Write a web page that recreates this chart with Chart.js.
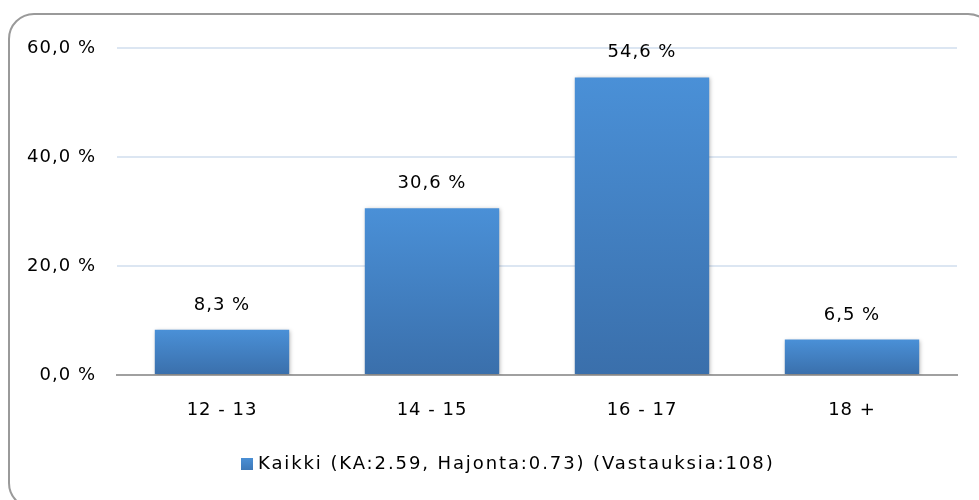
<!DOCTYPE html>
<html>
<head>
<meta charset="utf-8">
<script src="https://cdn.jsdelivr.net/npm/chart.js@4.4.1/dist/chart.umd.min.js"></script>
<style>
  html, body { margin:0; padding:0; background:#fff; }
  .wrap { position:relative; width:979px; height:500px; overflow:hidden; }
  .frame { position:absolute; left:8px; top:13px; width:986px; height:496px; border:2px solid #9a9a9a; border-radius:26px; box-sizing:border-box; }
  canvas { position:absolute; left:0; top:0; }
</style>
</head>
<body>
<div class="wrap">
  <div class="frame"></div>
  <canvas id="chart" width="979" height="500"></canvas>
</div>
<script>
// ----- DATA -----
const categories = ['12 - 13', '14 - 15', '16 - 17', '18 +'];
const values = [8.3, 30.6, 54.6, 6.5];
const seriesLabel = 'Kaikki (KA:2.59, Hajonta:0.73) (Vastauksia:108)';
const yTicks = [0, 20, 40, 60];

const FONT = "'DejaVu Sans', Verdana, sans-serif";

function fmt(v){ return v.toFixed(1).replace('.', ',') + ' %'; }

function barGradient(context){
  const chart = context.chart;
  const area = chart.chartArea;
  if(!area) return '#4a8fd5';
  const y = chart.scales.y;
  const v = context.parsed ? context.parsed.y : values[context.dataIndex];
  const top = y.getPixelForValue(v);
  const bottom = y.getPixelForValue(0);
  if(!isFinite(top) || top === bottom) return '#4a8fd5';
  const g = chart.ctx.createLinearGradient(0, top, 0, bottom);
  g.addColorStop(0, '#4a90d7');
  g.addColorStop(1, '#3a6fab');
  return g;
}

// slightly wider text, like the original
const textSpacing = {
  id:'textSpacing',
  beforeDraw(chart){ chart.ctx.letterSpacing = '1px'; }
};

// data labels above bars
const valueLabels = {
  id:'valueLabels',
  afterDatasetsDraw(chart){
    const ctx = chart.ctx;
    const meta = chart.getDatasetMeta(0);
    ctx.save();
    ctx.font = '18px ' + FONT;
    ctx.letterSpacing = '1px';
    ctx.fillStyle = '#000';
    ctx.textAlign = 'center';
    ctx.textBaseline = 'alphabetic';
    meta.data.forEach((bar,i)=>{
      ctx.fillText(fmt(values[i]), bar.x, bar.y - 20);
    });
    ctx.restore();
  }
};

// soft shadow on bars
const barShadow = {
  id:'barShadow',
  beforeDatasetDraw(chart){
    const ctx = chart.ctx;
    ctx.save();
    ctx.shadowColor = 'rgba(0,0,0,0.28)';
    ctx.shadowBlur = 4;
    ctx.shadowOffsetX = 1;
    ctx.shadowOffsetY = 1;
  },
  afterDatasetDraw(chart){ chart.ctx.restore(); }
};

// legend below the axis
const bottomLegend = {
  id:'bottomLegend',
  afterDraw(chart){
    const ctx = chart.ctx;
    const x0 = 241, cy = 464, box = 12;
    ctx.save();
    const g = ctx.createLinearGradient(0, cy - box/2, 0, cy + box/2);
    g.addColorStop(0, '#4a8fd5');
    g.addColorStop(1, '#3d78b8');
    ctx.fillStyle = g;
    ctx.fillRect(x0, cy - box/2, box, box);
    ctx.font = '18px ' + FONT;
    ctx.letterSpacing = '1.9px';
    ctx.fillStyle = '#000';
    ctx.textAlign = 'left';
    ctx.textBaseline = 'middle';
    ctx.fillText(seriesLabel, x0 + box + 5, cy);
    ctx.restore();
  }
};

new Chart(document.getElementById('chart'), {
  type:'bar',
  data:{
    labels:categories,
    datasets:[{
      label:seriesLabel,
      data:values,
      backgroundColor:barGradient,
      borderWidth:0,
      categoryPercentage:0.64,
      barPercentage:1
    }]
  },
  options:{
    responsive:false,
    animation:false,
    events:[],
    layout:{ padding:{ left:0, right:22, top:48, bottom:55 } },
    plugins:{
      tooltip:{ enabled:false },
      legend:{ display:false }
    },
    scales:{
      x:{
        grid:{ display:false, drawTicks:false },
        border:{ display:true, color:'#a0a0a0', width:2 },
        ticks:{ font:{ family:FONT, size:18 }, color:'#000', padding:25 },
        afterFit(scale){ scale.height = 70; }
      },
      y:{
        min:0, max:60,
        afterBuildTicks(scale){ scale.ticks = yTicks.map(v=>({ value:v })); },
        grid:{ color:'#dce6f2', lineWidth:2, drawTicks:false },
        border:{ display:false },
        ticks:{ font:{ family:FONT, size:18 }, color:'#000', padding:21, callback:(v)=>fmt(v) },
        afterFit(scale){ scale.width = 117; }
      }
    }
  },
  plugins:[textSpacing, barShadow, valueLabels, bottomLegend]
});
</script>
</body>
</html>
